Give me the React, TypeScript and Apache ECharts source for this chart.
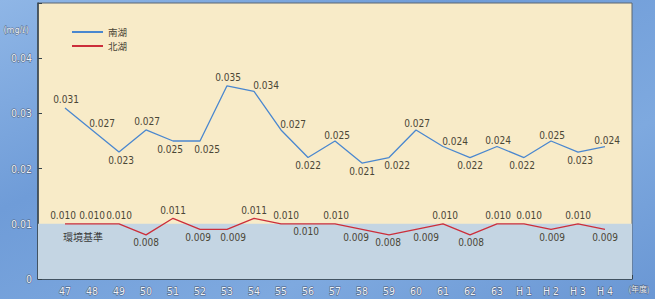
import React, { useEffect, useRef } from "react";
import * as echarts from "echarts";

const years = ["47","48","49","50","51","52","53","54","55","56","57","58","59","60","61","62","63","H 1","H 2","H 3","H 4"];
const nankoValues = [0.031,0.027,0.023,0.027,0.025,0.025,0.035,0.034,0.027,0.022,0.025,0.021,0.022,0.027,0.024,0.022,0.024,0.022,0.025,0.023,0.024];
const hokkoValues = [0.010,0.010,0.010,0.008,0.011,0.009,0.009,0.011,0.010,0.010,0.010,0.009,0.008,0.009,0.010,0.008,0.010,0.010,0.009,0.010,0.009];
const nankoLabelPos = ["top","top","bottom","top","bottom","bottom","top","top","top","bottom","top","bottom","bottom","top","top","bottom","top","bottom","top","bottom","top"];
const nankoLabelOffset = [[1,0],[10,2],[2,0],[1,0],[-3,0],[7,0],[1,0],[12,2],[12,3],[0,0],[2,2],[0,0],[8,0],[1,2],[12,3],[0,0],[1,2],[-2,0],[1,2],[2,0],[2,2]];
const hokkoLabelPos = ["top","top","top","bottom","top","bottom","bottom","top","top","bottom","top","bottom","bottom","bottom","top","bottom","top","top","bottom","top","bottom"];
const hokkoLabelOffset = [[-2,0],[0,0],[0,0],[0,0],[0,0],[-2,0],[6,0],[0,0],[5,0],[-2,0],[1,0],[-6,0],[-1,0],[10,0],[2,0],[1,0],[1,0],[5,0],[1,0],[0,0],[0,0]];
const yTicks = [0, 0.01, 0.02, 0.03, 0.04];
const standardValue = 0.01;

const labelFont = "'DejaVu Sans Condensed', 'DejaVu Sans', sans-serif";
const BLUE = "#4a87cf";
const RED = "#cc2e3a";

export default function App() {
  const ref = useRef<HTMLDivElement>(null);
  useEffect(() => {
    if (!ref.current) return;
    const chart = echarts.init(ref.current, null, { renderer: "svg" });
    const mk = (vals: number[], pos: string[], off: number[][]) =>
      vals.map((v, i) => ({
        value: [i, v],
        label: { position: pos[i], offset: off[i] },
      }));
    const labelStyle = {
      show: true,
      fontFamily: labelFont,
      fontSize: 10,
      color: "#4a4636",
      distance: 3,
      formatter: (p: any) => p.value[1].toFixed(3),
    };
    chart.setOption({
      animation: false,
      backgroundColor: new echarts.graphic.LinearGradient(0, 0, 1, 1, [
        { offset: 0, color: "#8fb6e6" },
        { offset: 0.35, color: "#6f9cd8" },
        { offset: 0.7, color: "#7ea9df" },
        { offset: 1, color: "#6a97d4" },
      ]),
      grid: {
        left: 38,
        right: 23,
        top: 3,
        bottom: 20,
        show: true,
        backgroundColor: "#f8ebc8",
        borderColor: "#5c6670",
        borderWidth: 1,
      },
      legend: {
        orient: "vertical",
        left: 67,
        top: 22,
        itemGap: 4,
        itemWidth: 31,
        itemHeight: 2,
        icon: "rect",
        textStyle: { fontFamily: "'Noto Sans CJK JP', sans-serif", fontSize: 9.5, lineHeight: 10, color: "#4a4636" },
        data: [
          { name: "南湖", itemStyle: { color: BLUE, opacity: 1 } },
          { name: "北湖", itemStyle: { color: RED, opacity: 1 } },
        ],
      },
      xAxis: {
        type: "value",
        min: -1,
        max: 21,
        interval: 1,
        splitLine: { show: false },
        axisLine: { onZero: false, lineStyle: { color: "#36434c", width: 1.5 } },
        axisTick: { inside: true, length: 4, lineStyle: { color: "#36434c" } },
        axisLabel: {
          margin: 6,
          fontFamily: labelFont,
          fontSize: 10.5,
          color: "#eef3fb",
          textBorderColor: "#4d5d78",
          textBorderWidth: 1,
          formatter: (v: number) => (v >= 0 && v < years.length ? years[v] : ""),
        },
      },
      yAxis: {
        type: "value",
        min: 0,
        max: 0.05,
        interval: 0.01,
        splitLine: { show: false },
        axisLine: { show: true, onZero: false, lineStyle: { color: "#36434c", width: 1.5 } },
        axisTick: { inside: true, length: 4, lineStyle: { color: "#36434c" } },
        axisLabel: {
          margin: 6,
          fontFamily: labelFont,
          fontSize: 10.5,
          color: "#eef3fb",
          textBorderColor: "#4d5d78",
          textBorderWidth: 1,
          formatter: (v: number) => {
            const t = yTicks.find((y) => Math.abs(y - v) < 1e-9);
            if (t === undefined) return "";
            return t === 0 ? "0" : t.toFixed(2);
          },
        },
      },
      graphic: [
        {
          type: "text",
          left: 3,
          top: 25,
          style: {
            text: "(mg/ℓ)",
            fontFamily: "'DejaVu Sans Condensed', sans-serif",
            fontSize: 9,
            fill: "#eef3fb",
            stroke: "#4d5d78",
            lineWidth: 0.8,
          },
        },
        {
          type: "text",
          left: 628,
          top: 284,
          style: {
            text: "(年度)",
            fontFamily: "'Noto Sans CJK JP', sans-serif",
            fontSize: 8,
            fill: "#eef3fb",
            stroke: "#4d5d78",
            lineWidth: 0.8,
          },
        },
      ],
      series: [
        {
          name: "南湖",
          type: "line",
          color: BLUE,
          lineStyle: { width: 1.3, color: BLUE },
          symbol: "circle",
          symbolSize: 0,
          itemStyle: { color: "transparent", borderWidth: 0 },
          label: labelStyle,
          data: mk(nankoValues, nankoLabelPos, nankoLabelOffset),
          z: 3,
        },
        {
          name: "北湖",
          type: "line",
          color: RED,
          lineStyle: { width: 1.3, color: RED },
          symbol: "circle",
          symbolSize: 0,
          itemStyle: { color: "transparent", borderWidth: 0 },
          label: labelStyle,
          data: mk(hokkoValues, hokkoLabelPos, hokkoLabelOffset),
          markArea: {
            silent: true,
            itemStyle: { color: "#c4d5e3" },
            label: {
              show: true,
              position: "insideTopLeft",
              offset: [20, 3],
              fontFamily: "'Noto Sans CJK JP', sans-serif",
              fontSize: 10,
              color: "#3a3a3a",
            },
            data: [[{ name: "環境基準", yAxis: 0 }, { yAxis: standardValue }]],
          },
          z: 2,
        },
      ],
    });
    return () => chart.dispose();
  }, []);
  return <div ref={ref} style={{ width: 655, height: 299, position: "absolute", left: 0, top: 0 }} />;
}
